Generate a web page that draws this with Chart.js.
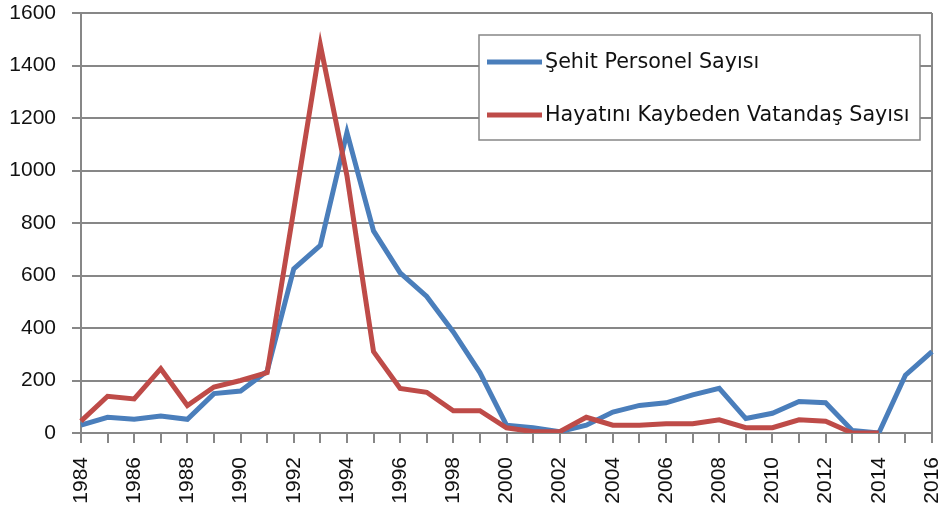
<!DOCTYPE html>
<html>
<head>
<meta charset="utf-8">
<script src="https://cdn.jsdelivr.net/npm/chart.js@4/dist/chart.umd.min.js"></script>
<style>
  html, body { margin: 0; padding: 0; background: #fff; }
  #wrap { width: 944px; height: 511px; }
</style>
</head>
<body>
<div id="wrap"><canvas id="chart" width="944" height="511"></canvas></div>
<script>
const years = [
  "1984", "1985", "1986", "1987", "1988", "1989", "1990", "1991", "1992", "1993",
  "1994", "1995", "1996", "1997", "1998", "1999", "2000", "2001", "2002", "2003",
  "2004", "2005", "2006", "2007", "2008", "2009", "2010", "2011", "2012", "2013",
  "2014", "2015", "2016",
];

// Şehit Personel Sayısı
const personel = [
  30, 60, 52, 65, 52, 150, 160, 235, 625, 715,
  1145, 770, 610, 520, 385, 230, 30, 20, 5, 30,
  80, 105, 115, 145, 170, 55, 75, 120, 115, 10,
  0, 220, 310,
];

// Hayatını Kaybeden Vatandaş Sayısı
const vatandas = [
  45, 140, 130, 245, 105, 175, 200, 230, 850, 1478,
  980, 310, 170, 155, 85, 85, 20, 5, 5, 60,
  30, 30, 35, 35, 50, 20, 20, 50, 45, 0,
  0, null, null,
];

const seriesLabels = ["Şehit Personel Sayısı", "Hayatını Kaybeden Vatandaş Sayısı"];
const seriesColors = ["#4a7ebb", "#be4b48"];
const gridColor = "#878787";
const tickFont = { family: "Liberation Sans", size: 21 };

// legend drawn as a framed box inside the plot, like the original
const boxLegend = {
  id: "boxLegend",
  afterDraw(chart) {
    const ctx = chart.ctx;
    const x = 479, y = 35, w = 441, h = 105;
    ctx.save();
    ctx.fillStyle = "#fff";
    ctx.fillRect(x, y, w, h);
    ctx.strokeStyle = gridColor;
    ctx.lineWidth = 1.5;
    ctx.strokeRect(x, y, w, h);
    ctx.font = "20.7px 'DejaVu Sans'";
    ctx.textBaseline = "middle";
    chart.data.datasets.forEach((ds, i) => {
      const ly = 62 + i * 53;
      ctx.strokeStyle = ds.borderColor;
      ctx.lineWidth = 5;
      ctx.beginPath();
      ctx.moveTo(487, ly);
      ctx.lineTo(542, ly);
      ctx.stroke();
      ctx.fillStyle = "#111";
      ctx.fillText(ds.label, 545, ly + 1);
    });
    ctx.restore();
  },
};

new Chart(document.getElementById("chart"), {
  type: "line",
  data: {
    labels: years,
    datasets: [
      {
        label: seriesLabels[0],
        data: personel,
        borderColor: seriesColors[0],
        backgroundColor: seriesColors[0],
        borderWidth: 5,
        pointRadius: 0,
        tension: 0,
        fill: false,
        order: 2,
      },
      {
        label: seriesLabels[1],
        data: vatandas,
        borderColor: seriesColors[1],
        backgroundColor: seriesColors[1],
        borderWidth: 5,
        pointRadius: 0,
        tension: 0,
        fill: false,
        spanGaps: false,
        order: 1,
      },
    ],
  },
  options: {
    responsive: false,
    animation: false,
    layout: { padding: { top: 13, right: 12, bottom: 5, left: 0 } },
    plugins: {
      legend: { display: false },
      tooltip: { enabled: false },
    },
    scales: {
      x: {
        offset: false,
        grid: {
          color: (c) => (c.index === years.length - 1 ? gridColor : "transparent"),
          tickColor: gridColor,
          tickLength: 10,
          lineWidth: 2,
        },
        border: { color: gridColor, width: 2 },
        ticks: {
          autoSkip: false,
          minRotation: 90,
          maxRotation: 90,
          padding: 14,
          color: "#111",
          font: tickFont,
          callback: (v, i) => (i % 2 === 0 ? years[i] : ""),
        },
        afterFit: (scale) => {
          scale.height = 73;
          scale.paddingLeft = 0;
          scale.paddingRight = 0;
        },
      },
      y: {
        min: 0,
        max: 1600,
        grid: {
          color: gridColor,
          tickColor: gridColor,
          tickLength: 9,
          lineWidth: 2,
        },
        border: { color: gridColor, width: 2 },
        ticks: {
          stepSize: 200,
          padding: 16,
          color: "#111",
          font: tickFont,
          callback: (v) => String(v),
        },
        afterFit: (scale) => {
          scale.width = 81;
          scale.paddingTop = 0;
          scale.paddingBottom = 0;
        },
      },
    },
  },
  plugins: [boxLegend],
});
</script>
</body>
</html>
